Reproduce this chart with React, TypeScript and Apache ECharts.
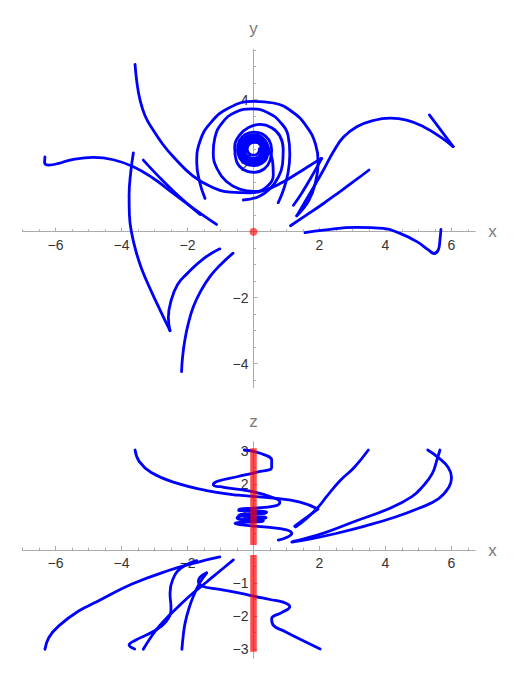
import React, { useEffect, useRef } from 'react';
import * as echarts from 'echarts';

// ---------- Top panel: trajectories projected on the x–y plane ----------
const xyArcFromTopLeft = [[-3.59,5.07],[-3.53,4.5],[-3.44,4.0],[-3.28,3.5],[-3.04,3.08],[-2.75,2.65],[-2.43,2.27],[-1.85,1.7],[-1.3,1.37],[-0.7,1.2],[-0.1,1.18],[0.4,1.28],[0.85,1.48],[1.3,1.75],[1.7,2.0],[2.05,2.22]];
const xyShortRise = [[1.21,0.8],[1.45,1.15],[1.75,1.65],[2.07,2.22]];
const xyOuterLoop = [[-1.47,1.01],[-1.63,1.5],[-1.72,2.1],[-1.62,2.75],[-1.3,3.3],[-0.75,3.75],[0,3.95],[0.6,3.9],[1.15,3.65],[1.6,3.2],[1.88,2.65],[1.96,2.1],[1.88,1.5],[1.68,0.95],[1.31,0.48]];
const xySCurve = [[1.31,0.48],[1.71,1.16],[2.12,1.87],[2.42,2.42],[2.72,2.86],[3.13,3.18],[3.63,3.37],[4.14,3.44],[4.64,3.38],[5.15,3.18],[5.65,2.88],[6.05,2.58]];
const xySCurveTail = [[6.05,2.58],[5.33,3.54]];
const xySpiralA = [[0.75,0.88],[0.92,1.3],[1.05,1.8],[1.1,2.35],[1.05,2.9],[0.83,3.3],[0.45,3.6],[-0.05,3.72],[-0.55,3.62],[-0.95,3.3],[-1.17,2.85],[-1.22,2.38],[-1.1,1.9],[-0.82,1.52],[-0.42,1.29],[0.03,1.22],[0.4,1.36],[0.6,1.72],[0.58,2.12],[0.47,2.48],[0.37,2.74],[0.2,2.9],[0.0,2.94],[-0.22,2.88],[-0.38,2.72],[-0.44,2.49],[-0.38,2.27],[-0.22,2.11],[0.0,2.06],[0.22,2.12],[0.37,2.28],[0.41,2.49],[0.35,2.69],[0.2,2.83],[0.0,2.87],[-0.19,2.82],[-0.32,2.67],[-0.36,2.48],[-0.31,2.3],[-0.17,2.17],[0.01,2.13],[0.18,2.18],[0.3,2.31],[0.34,2.49],[0.29,2.66],[0.15,2.77],[0.0,2.8],[-0.16,2.75],[-0.27,2.63],[-0.3,2.47],[-0.25,2.33],[-0.12,2.23],[0.02,2.21],[0.15,2.26],[0.24,2.37],[0.27,2.5],[0.22,2.64],[0.11,2.72]];
const xySpiralB = [[-0.31,0.96],[0.15,1.06],[0.5,1.3],[0.75,1.65],[0.88,2.05],[0.9,2.5],[0.8,2.9],[0.55,3.15],[0.2,3.25],[-0.15,3.16],[-0.43,2.92],[-0.57,2.55],[-0.52,2.15],[-0.3,1.88],[0.02,1.8],[0.32,1.9],[0.5,2.15],[0.55,2.48],[0.47,2.78],[0.26,2.97],[0.0,3.02],[-0.25,2.95],[-0.43,2.75],[-0.48,2.48],[-0.41,2.22],[-0.23,2.05],[0.02,2.0],[0.25,2.07],[0.4,2.23],[0.44,2.48],[0.38,2.7],[0.22,2.84],[0.02,2.88],[-0.18,2.82],[-0.32,2.67],[-0.37,2.48],[-0.32,2.3],[-0.18,2.16],[0.02,2.12],[0.2,2.17],[0.31,2.3],[0.34,2.48],[0.29,2.65],[0.17,2.76],[0.02,2.79],[-0.13,2.74],[-0.24,2.62],[-0.27,2.48],[-0.23,2.34],[-0.12,2.25],[0.02,2.22],[0.15,2.26],[0.23,2.36],[0.25,2.5],[0.21,2.62],[0.12,2.7],[0.02,2.71],[-0.09,2.68],[-0.17,2.59],[-0.19,2.49],[-0.15,2.39],[-0.07,2.33],[0.03,2.32],[0.12,2.36],[0.17,2.44],[0.18,2.52]];
const xyRightDiagonal = [[1.12,0.18],[1.6,0.5],[2.1,0.84],[2.6,1.2],[3.05,1.53],[3.5,1.87]];
const xyRightLow = [[1.56,-0.03],[2.12,0.05],[3.13,0.13],[3.93,0.1],[4.44,-0.05],[4.95,-0.3],[5.3,-0.55],[5.47,-0.66],[5.6,-0.55],[5.65,-0.25],[5.68,0.07]];
const xyLeftWave = [[-6.32,2.27],[-6.33,2.1],[-6.2,2.02],[-5.9,2.07],[-5.56,2.17],[-4.85,2.25],[-4.25,2.18],[-3.64,1.97],[-3.04,1.62],[-2.43,1.16],[-1.95,0.8],[-1.6,0.55],[-1.12,0.22]];
const xyLeftDiagonal = [[-3.34,2.17],[-2.9,1.7],[-2.4,1.2],[-1.95,0.8],[-1.62,0.52]];
const xyLeftLong = [[-3.64,2.39],[-3.72,1.8],[-3.77,1.1],[-3.76,0.5],[-3.7,0.0],[-3.56,-0.6],[-3.38,-1.15],[-3.1,-1.8],[-2.82,-2.4],[-2.53,-3.0]];
const xyLeftLongReturn = [[-2.53,-3.0],[-2.58,-2.6],[-2.5,-2.1],[-2.3,-1.6],[-2.0,-1.26],[-1.52,-0.82],[-1.02,-0.52]];
const xyLowerArc = [[-0.62,-0.65],[-1.0,-1.0],[-1.32,-1.36],[-1.6,-1.8],[-1.82,-2.27],[-1.98,-2.8],[-2.08,-3.28],[-2.15,-3.8],[-2.18,-4.24]];
const xyFixedPoint = [[0, 0]];

// ---------- Bottom panel: trajectories projected on the x–z plane ----------
const xzArcFromTopLeft = [[-3.59,3.03],[-3.46,2.68],[-3.1,2.35],[-2.4,2.05],[-1.42,1.8],[-0.45,1.66],[0.6,1.57],[1.41,1.45],[1.95,1.24]];
const xzArcReturn = [[1.95,1.24],[1.6,0.98],[1.25,0.72]];
const xzOscillation = [[-0.28,3.03],[0.2,2.93],[0.55,2.72],[0.55,2.5],[0.2,2.38],[-0.5,2.22],[-1.1,2.08],[-1.22,1.98],[-0.9,1.9],[-0.2,1.8],[0.5,1.62],[0.8,1.45],[0.62,1.33],[0.0,1.27],[-0.42,1.24],[-0.45,1.2],[0.2,1.18],[0.4,1.15],[0.3,1.11],[-0.3,1.09],[-0.45,1.05],[-0.3,1.02],[0.3,1.0],[0.38,0.97],[0.1,0.94],[-0.35,0.92]];
const xzHook = [[0.35,1.12],[-0.2,1.06],[-0.5,0.98],[-0.35,0.92],[0.3,0.89],[0.25,0.86],[-0.4,0.84],[-0.56,0.81],[-0.41,0.77],[0.4,0.69],[1.0,0.61],[1.16,0.5],[1.0,0.38],[0.75,0.3]];
const xzRightDiagonal = [[3.48,3.03],[3.05,2.5],[2.62,2.1],[2.2,1.6],[1.96,1.3],[1.6,0.95],[1.28,0.7]];
const xzRightBulge = [[5.28,3.03],[5.6,2.8],[5.9,2.5],[6.0,2.2],[5.92,1.9],[5.6,1.55],[5.05,1.28],[4.3,1.0],[3.4,0.73],[2.5,0.5],[1.7,0.33],[1.16,0.24]];
const xzRightDirect = [[5.65,3.03],[5.55,2.7],[5.42,2.32],[5.15,1.95],[4.8,1.62],[4.1,1.25],[3.1,0.88],[2.15,0.52],[1.5,0.33],[1.2,0.26]];
const xzLeftLong = [[-6.32,-3.01],[-6.2,-2.65],[-5.9,-2.3],[-5.3,-1.85],[-4.75,-1.57],[-3.7,-1.04],[-2.6,-0.63],[-1.62,-0.35],[-1.02,-0.21]];
const xzLeftDiagonal = [[-0.61,-0.3],[-1.0,-0.62],[-1.42,-0.97],[-1.85,-1.32],[-2.23,-1.67],[-2.55,-1.98],[-2.85,-2.3],[-3.1,-2.63],[-3.34,-3.01]];
const xzLeftWiggle = [[-1.72,-0.32],[-2.2,-0.55],[-2.45,-0.9],[-2.53,-1.31],[-2.5,-1.77],[-2.65,-2.17],[-3.04,-2.47],[-3.55,-2.72],[-3.77,-2.88],[-3.6,-3.0]];
const xzLeftSteep = [[-1.42,-0.7],[-1.62,-0.98],[-1.8,-1.35],[-1.95,-1.75],[-2.07,-2.2],[-2.13,-2.6],[-2.17,-3.01]];
const xzCrossing = [[-1.42,-0.69],[-1.67,-0.93],[-1.57,-1.09],[-1.02,-1.19],[-0.3,-1.33],[0,-1.4],[0.5,-1.5],[0.9,-1.58],[1.1,-1.72],[0.85,-1.9],[0.55,-2.08],[0.6,-2.28],[0.95,-2.47],[1.4,-2.7],[2.02,-3.0]];
const xzFixedLineUpper = [[0, 3.08], [0, 0.15]];
const xzFixedLineLower = [[0, -0.15], [0, -3.08]];

// ---------- Axes ----------
const xRange = [-7, 6.72];
const yRange = [-4.72, 5.53];
const zRange = [-3.28, 3.28];
const xMajorTicks = [-6, -4, -2, 2, 4, 6];
const yMajorTicks = [-4, -2, 2, 4];
const zMajorTicks = [-3, -2, -1, 1, 2, 3];
const xMinorTicks = [-7,-6.5,-5.5,-5,-4.5,-3.5,-3,-2.5,-1.5,-1,-0.5,0.5,1,1.5,2.5,3,3.5,4.5,5,5.5,6.5];
const yMinorTicks = [-4.5,-3.5,-3,-2.5,-1.5,-1,-0.5,0.5,1,1.5,2.5,3,3.5,4.5,5,5.5];
const zMinorTicks = [-2.5,-1.5,-0.5,0.5,1.5,2.5];

const FONT = "'Liberation Sans', Arial, sans-serif";
const AXIS_GRAY = '#ababab';
const UNIT = 33;          // pixels per data unit (both directions)
const X_ZERO = 253.5;     // page x of x = 0
const TOP_ZERO = 231.7;   // page y of y = 0 (top panel)
const BOT_ZERO = 550;     // page y of z = 0 (bottom panel)
const fmt = (v: number) => (v < 0 ? '\u2212' + Math.abs(v) : String(v));

// axes sit at the grid edge and are shifted (offset) onto the zero line of the other axis
function axis(dim: 'x' | 'y', gridIndex: number, range: number[], offset: number, ticks: number[], major: boolean, name = '') {
  return {
    type: 'value', gridIndex, min: range[0], max: range[1],
    position: dim === 'x' ? 'bottom' : 'left',
    offset,
    name: major ? name : '',
    nameLocation: 'end', nameGap: dim === 'x' ? 13 : 12,
    nameTextStyle: { color: '#7a7a7a', fontSize: 17, fontFamily: FONT },
    axisLine: { show: major, onZero: false, lineStyle: { color: AXIS_GRAY, width: 1 } },
    axisTick: { show: true, inside: true, length: major ? 4 : 2.4, customValues: ticks, lineStyle: { color: AXIS_GRAY, width: 1 } },
    axisLabel: { show: major, customValues: ticks, formatter: fmt, color: '#333', fontSize: 14, fontFamily: FONT, margin: dim === 'x' ? 6 : 5 },
    splitLine: { show: false },
  };
}

function curve(data: number[][], axisIdx: number) {
  return {
    type: 'line', data, xAxisIndex: axisIdx, yAxisIndex: axisIdx,
    smooth: 0.45, showSymbol: false, symbol: 'none', silent: true, z: 3,
    lineStyle: { color: '#0000ff', width: 2.8, cap: 'round', join: 'round' },
  };
}

const topCurves = [xyArcFromTopLeft, xyShortRise, xyOuterLoop, xySCurve, xySCurveTail, xySpiralA, xySpiralB, xyRightDiagonal, xyRightLow, xyLeftWave, xyLeftDiagonal, xyLeftLong, xyLeftLongReturn, xyLowerArc];
const bottomCurves = [xzArcFromTopLeft, xzArcReturn, xzOscillation, xzHook, xzRightDiagonal, xzRightBulge, xzRightDirect, xzLeftLong, xzLeftDiagonal, xzLeftWiggle, xzLeftSteep, xzCrossing];

export default function App() {
  const ref = useRef<HTMLDivElement>(null);
  useEffect(() => {
    if (!ref.current) return;
    const chart = echarts.init(ref.current, undefined, { renderer: 'svg' });
    const left = X_ZERO + xRange[0] * UNIT;
    const width = (xRange[1] - xRange[0]) * UNIT;
    const xOffTop = yRange[0] * UNIT;   // negative: move x axis up to y = 0
    const xOffBot = zRange[0] * UNIT;   // negative: move x axis up to z = 0
    const yOff = xRange[0] * UNIT;      // negative: move y/z axis right to x = 0
    chart.setOption({
      animation: false,
      grid: [
        { left, width, top: TOP_ZERO - yRange[1] * UNIT, height: (yRange[1] - yRange[0]) * UNIT },
        { left, width, top: BOT_ZERO - zRange[1] * UNIT, height: (zRange[1] - zRange[0]) * UNIT },
      ],
      xAxis: [
        axis('x', 0, xRange, xOffTop, xMajorTicks, true, 'x'),
        axis('x', 0, xRange, xOffTop, xMinorTicks, false),
        axis('x', 1, xRange, xOffBot, xMajorTicks, true, 'x'),
        axis('x', 1, xRange, xOffBot, xMinorTicks, false),
      ],
      yAxis: [
        axis('y', 0, yRange, yOff, yMajorTicks, true, 'y'),
        axis('y', 0, yRange, yOff, yMinorTicks, false),
        axis('y', 1, zRange, yOff, zMajorTicks, true, 'z'),
        axis('y', 1, zRange, yOff, zMinorTicks, false),
      ],
      series: [
        ...topCurves.map((d) => curve(d, 0)),
        ...bottomCurves.map((d) => curve(d, 2)),
        {
          type: 'scatter', data: xyFixedPoint, xAxisIndex: 0, yAxisIndex: 0,
          symbol: 'circle', symbolSize: 8, silent: true, z: 5,
          itemStyle: { color: 'rgba(255,0,0,0.8)' },
        },
        ...[xzFixedLineUpper, xzFixedLineLower].map((d) => ({
          type: 'line', data: d, xAxisIndex: 2, yAxisIndex: 2,
          showSymbol: false, symbol: 'none', silent: true, z: 5,
          lineStyle: { color: 'rgba(255,0,0,0.7)', width: 6.5, cap: 'butt' },
        })),
      ],
    });
    return () => chart.dispose();
  }, []);
  return <div ref={ref} style={{ position: 'absolute', left: 0, top: 0, width: 520, height: 678 }} />;
}
